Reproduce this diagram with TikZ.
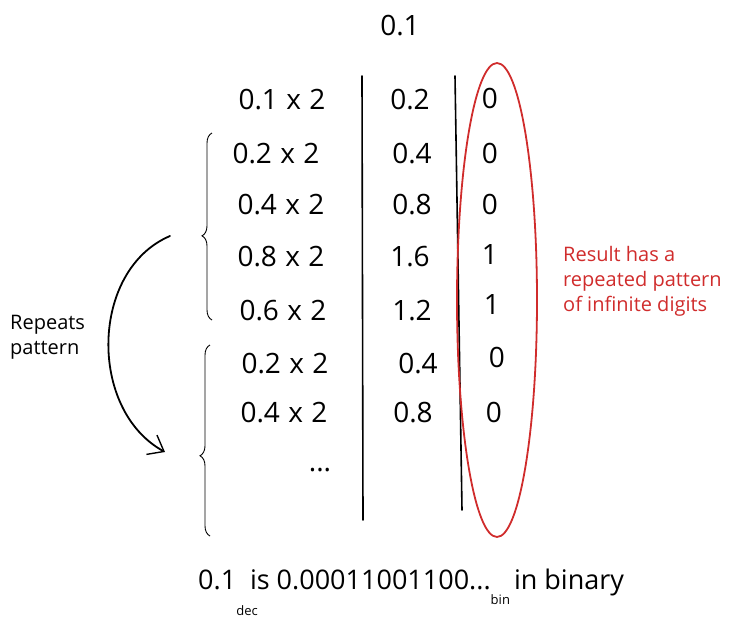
\documentclass[tikz,border=0pt]{standalone}
\usepackage{fontspec}
\setmainfont{Open Sans}
\usetikzlibrary{decorations.pathreplacing,arrows.meta,shapes.geometric}
\definecolor{redink}{HTML}{D02C2C}
\newcommand{\tms}{\hspace{0.3em}x\hspace{0.3em}}
\begin{document}
\begin{tikzpicture}[x=1pt,y=-1pt,
  cell/.style={font=\fontsize{28}{32}\selectfont, inner sep=0pt, anchor=center},
  note/.style={font=\fontsize{20}{25}\selectfont, inner sep=0pt, align=left, anchor=north west},
  ink/.style={line width=1.6pt, line cap=round},
  bracestyle/.style={line width=0.9pt, decorate, decoration={brace, amplitude=10pt, raise=0pt}}]
\useasboundingbox (0,0) rectangle (745,635);
% title
\node[cell] (top) at (400,26) {0.1};
% column 1
\node[cell] (a1) at (282,100) {0.1\tms 2};
\node[cell] (a2) at (276,154) {0.2\tms 2};
\node[cell] (a3) at (281,205) {0.4\tms 2};
\node[cell] (a4) at (281,257) {0.8\tms 2};
\node[cell] (a5) at (283,311) {0.6\tms 2};
\node[cell] (a6) at (285,364) {0.2\tms 2};
\node[cell] (a7) at (284,413) {0.4\tms 2};
\node[cell] (a8) at (320,470) {...};
% column 2
\node[cell] (b1) at (410,100) {0.2};
\node[cell] (b2) at (412,154) {0.4};
\node[cell] (b3) at (412,205) {0.8};
\node[cell] (b4) at (410,257) {1.6};
\node[cell] (b5) at (412,311) {1.2};
\node[cell] (b6) at (418,364) {0.4};
\node[cell] (b7) at (413,413) {0.8};
% column 3
\node[cell] (c1) at (490,98) {0};
\node[cell] (c2) at (490,153) {0};
\node[cell] (c3) at (490,204) {0};
\node[cell] (c4) at (490,255) {1};
\node[cell] (c5) at (492,305) {1};
\node[cell] (c6) at (497,357) {0};
\node[cell] (c7) at (494,412) {0};
% vertical lines
\coordinate (v1t) at (362,76);
\coordinate (v1b) at (363,520);
\coordinate (v2t) at (455,76);
\coordinate (v2b) at (462,510);
\draw[ink] (v1t) -- (v1b);
\draw[ink] (v2t) -- (v2b);
% red ellipse
\node[draw=redink, line width=1.8pt, ellipse, minimum width=80pt, minimum height=474pt, inner sep=0pt] (ell) at (497,300) {};
% red note
\node[note, text=redink] (res) at (563,246) {Result has a\\repeated pattern\\of infinite digits};
% braces
\coordinate (br1b) at (212,320);
\coordinate (br1t) at (212,133);
\coordinate (br2b) at (210,536);
\coordinate (br2t) at (210,345);
\draw[bracestyle, decoration={aspect=0.45}] (br1b) -- (br1t);
\draw[bracestyle, decoration={aspect=0.42}] (br2b) -- (br2t);
% arrow
\coordinate (ar1) at (170,236);
\coordinate (ar2) at (165,452);
\draw[line width=1.8pt, line cap=round, -{Straight Barb[length=14pt,width=22pt,line width=1.4pt]}]
  (ar1) .. controls (90,270) and (88,410) .. (ar2);
% left note
\node[note] (rep) at (10,315) {Repeats\\pattern};
% bottom text
\node[cell, anchor=west, font=\fontsize{27}{30}\selectfont] (bot) at (198,592) {0.1\makebox[0pt][r]{\raisebox{-0.95em}{\fontsize{13}{13}\selectfont dec}\hspace{-0.8em}}\hspace{0.25em} is 0.00011001100...\raisebox{-0.55em}{\fontsize{13}{13}\selectfont bin}\hspace{0.15em}in binary};
\end{tikzpicture}
\end{document}
